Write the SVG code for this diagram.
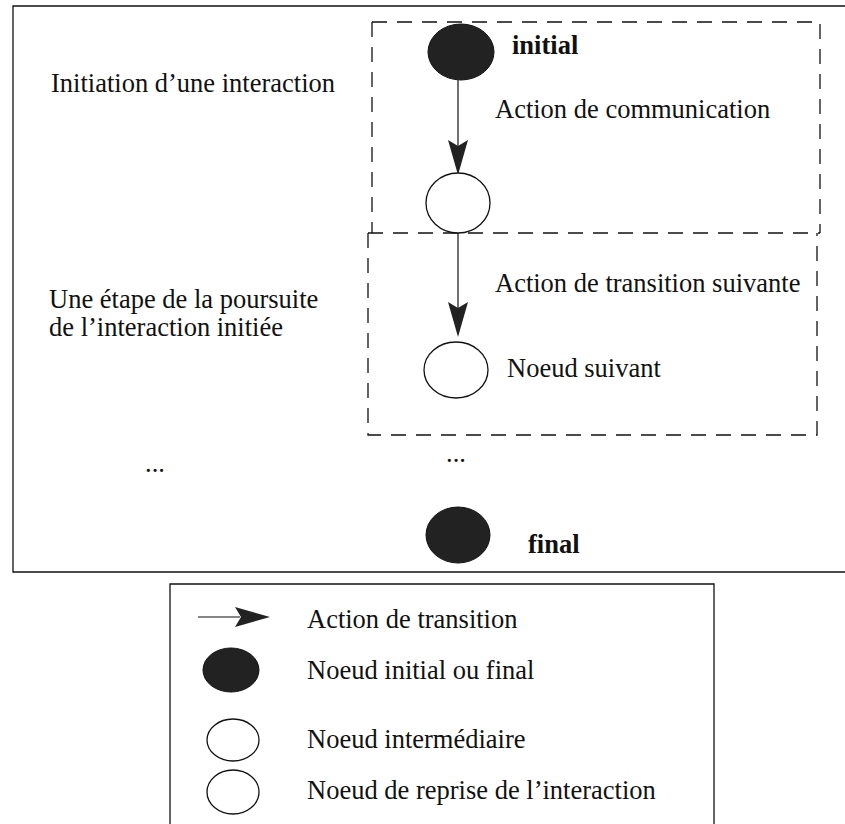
<svg xmlns="http://www.w3.org/2000/svg" width="845" height="824" viewBox="0 0 845 824">
  <style>
    .frame { fill: none; stroke: #111; stroke-width: 1.3; }
    .dash { fill: none; stroke: #111; stroke-width: 1.3; stroke-dasharray: 15 10; }
    .txt { font-family: "Liberation Serif", "Times New Roman", serif; font-size: 26.5px; fill: #111; }
    .bold { font-weight: bold; }
    .filled { fill: #222; stroke: #111; stroke-width: 1; }
    .open { fill: #fff; stroke: #111; stroke-width: 1.3; }
    .edge { stroke: #111; stroke-width: 1.2; fill: none; }
    .head { fill: #222; }
  </style>
  <rect width="845" height="824" fill="#fff"/>

  <!-- outer frame (open on the right) -->
  <path class="frame" d="M845,6 H13 V572 H845"/>

  <!-- dashed sections -->
  <g id="sections">
    <path class="dash" d="M372,22 H820 V233"/>
    <path class="dash" d="M372,22 V233"/>
    <path class="dash" d="M368,233 H820"/>
    <path class="dash" d="M368,233 V435 H817 V233"/>
  </g>

  <!-- left captions -->
  <g id="captions">
    <text class="txt" x="51" y="92">Initiation d’une interaction</text>
    <text class="txt" x="49" y="308">Une étape de la poursuite</text>
    <text class="txt" x="49" y="336">de l’interaction initiée</text>
    <text class="txt" x="145" y="472">...</text>
    <text class="txt" x="446" y="462">...</text>
  </g>

  <!-- connectors -->
  <g id="connectors">
    <line class="edge" x1="458" y1="80" x2="458" y2="172"/>
    <path class="head" d="M448,140 L458,146 L468,140 L458,175 Z"/>
    <line class="edge" x1="458" y1="233" x2="458" y2="334"/>
    <path class="head" d="M448,302 L458,308 L468,302 L458,337 Z"/>
    <text class="txt" x="495" y="118">Action de communication</text>
    <text class="txt" x="495" y="292">Action de transition suivante</text>
  </g>

  <g id="node-initial">
    <ellipse class="filled" cx="461" cy="52" rx="33" ry="28"/>
    <text class="txt bold" x="512" y="54">initial</text>
  </g>
  <g id="node-intermediate">
    <ellipse class="open" cx="458" cy="203" rx="32" ry="30"/>
  </g>
  <g id="node-next">
    <ellipse class="open" cx="456" cy="370" rx="32" ry="28"/>
    <text class="txt" x="507" y="377">Noeud suivant</text>
  </g>
  <g id="node-final">
    <ellipse class="filled" cx="458" cy="535" rx="32" ry="28"/>
    <text class="txt bold" x="528" y="553">final</text>
  </g>

  <!-- legend -->
  <g id="legend">
    <path class="frame" d="M170,824 V584 H714 V824"/>
    <line class="edge" x1="198" y1="617" x2="240" y2="617"/>
    <path class="head" d="M235,607 L241,617 L235,627 L270,617 Z"/>
    <text class="txt" x="307" y="628">Action de transition</text>
    <ellipse class="filled" cx="231" cy="670" rx="28" ry="22"/>
    <text class="txt" x="307" y="679">Noeud initial ou final</text>
    <ellipse class="open" cx="233" cy="740" rx="26" ry="21"/>
    <text class="txt" x="307" y="748">Noeud intermédiaire</text>
    <ellipse class="open" cx="233" cy="792" rx="26" ry="22"/>
    <text class="txt" x="307" y="799">Noeud de reprise de l’interaction</text>
  </g>
</svg>
